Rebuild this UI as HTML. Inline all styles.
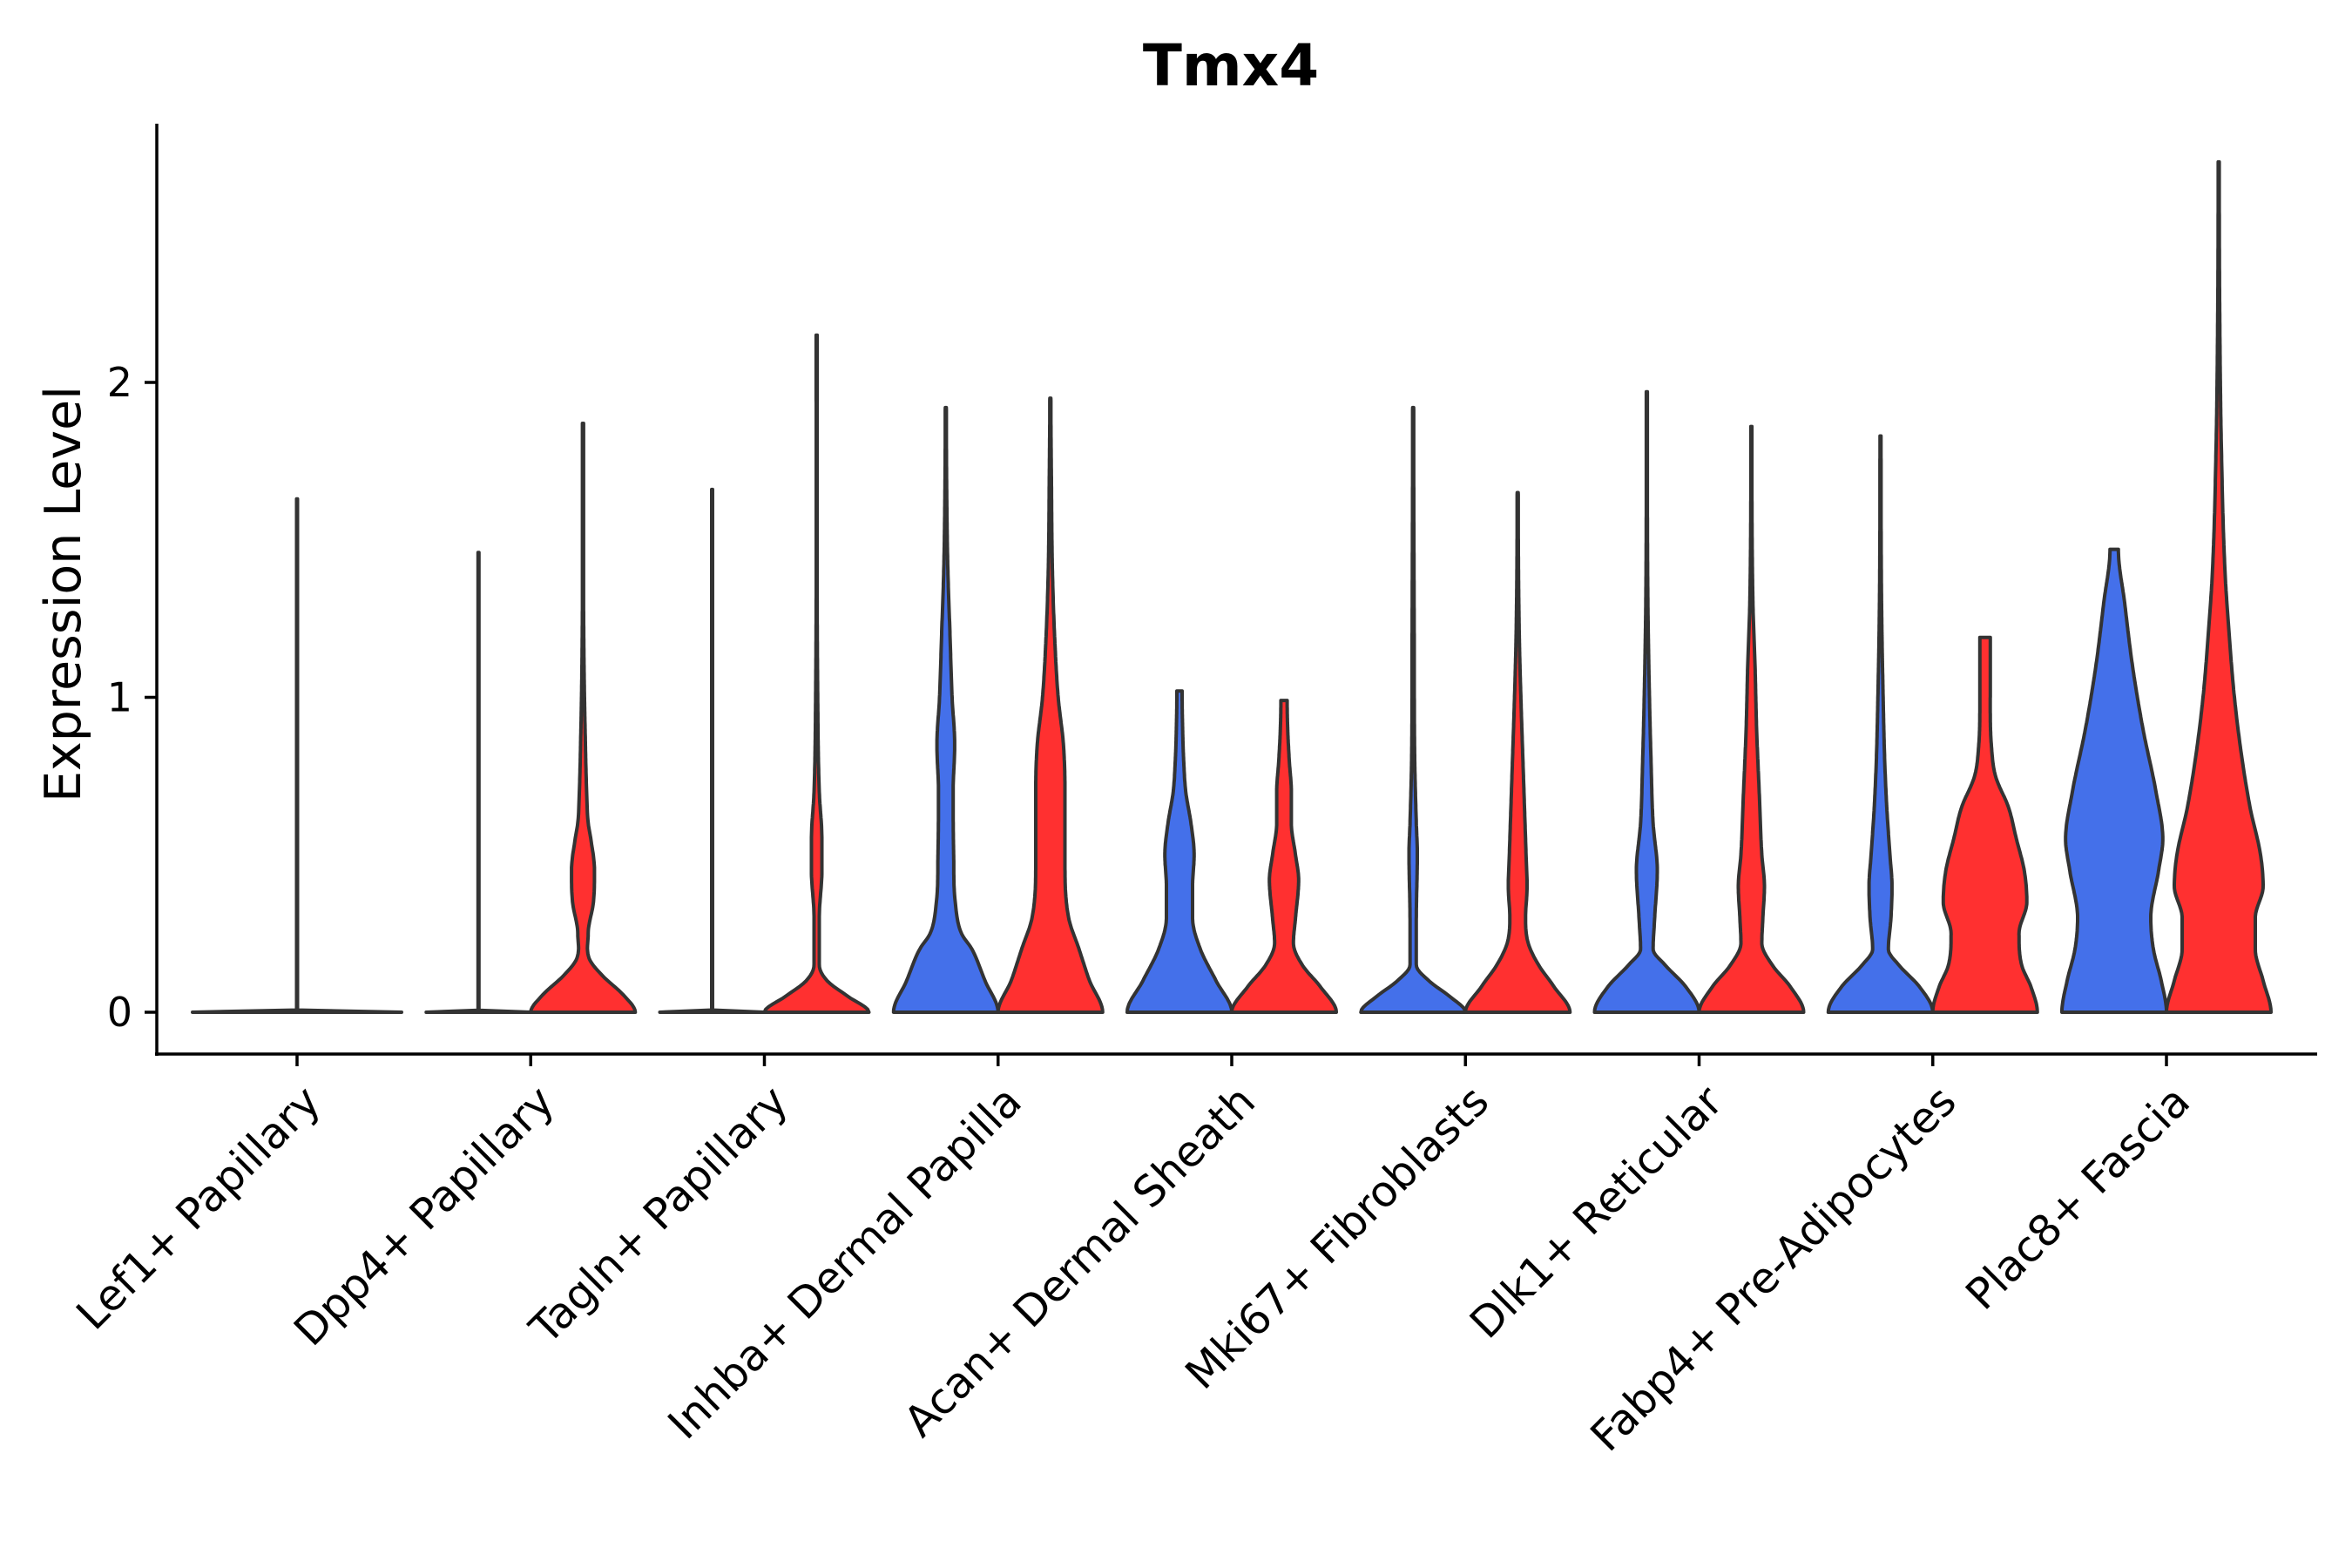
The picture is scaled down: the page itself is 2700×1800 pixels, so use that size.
<!DOCTYPE html>
<html><head><meta charset="utf-8"><style>body{margin:0;background:#fff}svg{display:block}text{font-family:"DejaVu Sans","Liberation Sans",sans-serif;fill:#000}</style></head>
<body>
<svg id="chart" width="2700" height="1800" viewBox="0 0 2700 1800" xmlns="http://www.w3.org/2000/svg">
<text x="1413" y="98" font-size="66" font-weight="bold" text-anchor="middle">Tmx4</text>
<text transform="translate(92,682) rotate(-90)" font-size="57" text-anchor="middle">Expression Level</text>
<g id="plot"></g>
</svg>
<script>
const categories = ["Lef1+ Papillary","Dpp4+ Papillary","Tagln+ Papillary","Inhba+ Dermal Papilla","Acan+ Dermal Sheath","Mki67+ Fibroblasts","Dlk1+ Reticular","Fabp4+ Pre-Adipocytes","Plac8+ Fascia"];
const yTicks = [0,1,2];
const blueMax = [1.63,1.46,1.66,1.92,1.02,1.92,1.97,1.83,1.47];
const redMax = [null,1.87,2.15,1.95,0.99,1.65,1.86,1.19,2.70];
const blueProfiles = [
 [[0,1],[0.004,0],[1.63,0]],
 [[0,1],[0.004,0],[1.46,0]],
 [[0,1],[0.004,0],[1.66,0]],
 [[0,1],[0.1,0.75],[0.2,0.5],[0.25,0.3],[0.35,0.18],[0.5,0.15],[0.7,0.14],[0.85,0.17],[1.0,0.12],[1.2,0.08],[1.4,0.04],[1.6,0.02],[1.92,0.01]],
 [[0,1],[0.1,0.7],[0.2,0.4],[0.3,0.25],[0.4,0.25],[0.5,0.28],[0.6,0.22],[0.7,0.12],[0.8,0.08],[0.9,0.06],[1.02,0.05]],
 [[0,1],[0.05,0.7],[0.1,0.3],[0.15,0.06],[0.3,0.06],[0.5,0.08],[0.6,0.06],[0.8,0.03],[1.2,0.02],[1.92,0.01]],
 [[0,1],[0.08,0.75],[0.15,0.35],[0.2,0.12],[0.3,0.15],[0.45,0.2],[0.6,0.12],[0.8,0.08],[1.0,0.05],[1.3,0.02],[1.97,0.01]],
 [[0,1],[0.08,0.75],[0.15,0.35],[0.2,0.15],[0.3,0.2],[0.4,0.22],[0.5,0.18],[0.65,0.12],[0.8,0.08],[1.0,0.05],[1.3,0.02],[1.83,0.01]],
 [[0,1],[0.1,0.9],[0.2,0.75],[0.3,0.7],[0.45,0.85],[0.55,0.93],[0.7,0.8],[0.9,0.55],[1.1,0.35],[1.3,0.2],[1.47,0.08]]
];
const redProfiles = [
 null,
 [[0,1],[0.05,0.8],[0.12,0.35],[0.17,0.12],[0.25,0.1],[0.35,0.2],[0.45,0.22],[0.55,0.15],[0.6,0.1],[0.7,0.07],[0.9,0.04],[1.1,0.02],[1.4,0.01],[1.87,0.01]],
 [[0,1],[0.05,0.6],[0.1,0.2],[0.15,0.05],[0.3,0.05],[0.45,0.1],[0.55,0.1],[0.7,0.05],[1,0.02],[2.15,0.01]],
 [[0,1],[0.1,0.75],[0.2,0.55],[0.3,0.35],[0.5,0.28],[0.7,0.28],[0.85,0.25],[1.0,0.15],[1.2,0.08],[1.4,0.04],[1.7,0.02],[1.95,0.01]],
 [[0,1],[0.08,0.7],[0.15,0.35],[0.22,0.18],[0.3,0.22],[0.42,0.28],[0.5,0.22],[0.6,0.14],[0.7,0.14],[0.8,0.1],[0.9,0.07],[0.99,0.06]],
 [[0,1],[0.08,0.7],[0.15,0.4],[0.22,0.2],[0.3,0.15],[0.4,0.18],[0.5,0.16],[0.65,0.13],[0.8,0.1],[0.95,0.07],[1.2,0.03],[1.65,0.01]],
 [[0,1],[0.08,0.75],[0.15,0.4],[0.22,0.2],[0.3,0.22],[0.4,0.25],[0.5,0.2],[0.7,0.15],[0.9,0.1],[1.1,0.07],[1.3,0.03],[1.86,0.01]],
 [[0,1],[0.08,0.88],[0.15,0.7],[0.25,0.65],[0.35,0.8],[0.45,0.75],[0.55,0.6],[0.65,0.45],[0.75,0.2],[0.85,0.12],[1.0,0.1],[1.19,0.1]],
 [[0,1],[0.1,0.85],[0.2,0.7],[0.3,0.7],[0.4,0.85],[0.5,0.8],[0.65,0.6],[0.8,0.45],[1.0,0.3],[1.2,0.2],[1.4,0.12],[1.8,0.05],[2.2,0.02],[2.7,0.01]]
];
const NS="http://www.w3.org/2000/svg";
const g=document.getElementById('plot');
const X0=341, DX=268.25, Y0=1162, UNIT=361.5;
const xScale=i=>X0+DX*i;
const yScale=v=>Y0-v*UNIT;
function mk(t,a){const e=document.createElementNS(NS,t);for(const k in a)e.setAttribute(k,a[k]);g.appendChild(e);return e;}
function widthAt(p,v){
  const n=p.length;
  const slope=j=>{if(j===0||j===n-1)return 0;const a=(p[j][1]-p[j-1][1])/(p[j][0]-p[j-1][0]),b=(p[j+1][1]-p[j][1])/(p[j+1][0]-p[j][0]);if(a*b<=0)return 0;return (a+b)/2;};
  for(let i=0;i<n-1;i++){if(v<=p[i+1][0]){const h=p[i+1][0]-p[i][0];const t=(v-p[i][0])/h;
    const h00=2*t*t*t-3*t*t+1,h10=t*t*t-2*t*t+t,h01=-2*t*t*t+3*t*t,h11=t*t*t-t*t;
    return h00*p[i][1]+h10*h*slope(i)+h01*p[i+1][1]+h11*h*slope(i+1);}}
  return p[n-1][1];}
function violin(cx,hw,prof,max){
  const N=240,R=[],L=[];
  for(let k=0;k<=N;k++){const v=max*k/N;const w=Math.max(widthAt(prof,v)*hw,0.5);const y=yScale(v);R.push((cx+w).toFixed(1)+','+y.toFixed(1));L.push((cx-w).toFixed(1)+','+y.toFixed(1));}
  return 'M'+R.join(' L')+' L'+L.reverse().join(' L')+' Z';
}
categories.forEach((c,i)=>{
  const cx=xScale(i);
  if(redProfiles[i]===null){
    const p=mk('path',{d:violin(cx,120,blueProfiles[i],blueMax[i]),fill:'#4470ea',stroke:'#333','stroke-width':4,'stroke-linejoin':'round'});
    
    
  } else {
    const b=mk('path',{d:violin(cx-60,60,blueProfiles[i],blueMax[i]),fill:'#4470ea',stroke:'#333','stroke-width':4,'stroke-linejoin':'round'});
    
    
    const r=mk('path',{d:violin(cx+60,60,redProfiles[i],redMax[i]),fill:'#ff3030',stroke:'#333','stroke-width':4,'stroke-linejoin':'round'});
    
    
  }
  const t=mk('line',{x1:cx,x2:cx,y1:1210,y2:1224,stroke:'#000','stroke-width':3.5});
  
  
  const lb=mk('text',{transform:`translate(${cx+4},1242) rotate(-45)`,'font-size':49,'text-anchor':'end','dominant-baseline':'hanging'});
  lb.textContent=c;
  
  
});
yTicks.forEach(v=>{
  const y=yScale(v);
  const t=mk('line',{x1:166,x2:180,y1:y,y2:y,stroke:'#000','stroke-width':3.5});
  
  
  const l=mk('text',{x:152,y:y+16,'font-size':46,'text-anchor':'end'});
  l.textContent=v;
  
  
});
const ya=mk('line',{x1:180,x2:180,y1:142,y2:1212,stroke:'#000','stroke-width':3.5});


const xa=mk('line',{x1:178,x2:2660,y1:1210,y2:1210,stroke:'#000','stroke-width':3.5});


</script>
</body></html>
